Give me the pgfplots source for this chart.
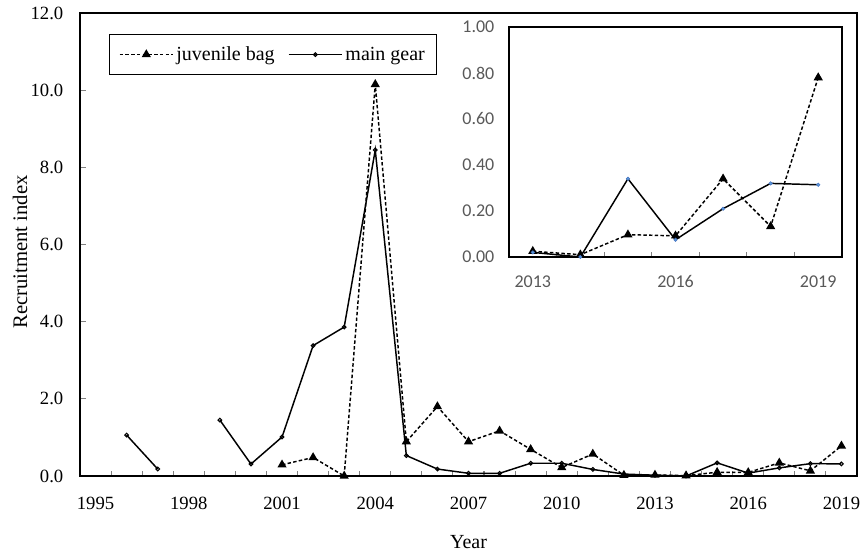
\documentclass[border=0pt]{standalone}
\usepackage{fontspec}
\setmainfont{Liberation Serif}
\newfontfamily\carlito{Carlito}
\usepackage{pgfplots}
\pgfplotsset{compat=1.18}
\definecolor{inkgray}{HTML}{595959}
\definecolor{mkblue}{HTML}{5B9BD5}
\definecolor{mkblueedge}{HTML}{4472C4}

\pgfplotsset{
  juvstyle/.style={black, line width=1.1pt, dash pattern=on 2.6pt off 1.7pt,
    mark=triangle*, mark size=2.9pt, mark options={solid, fill=black}},
}

\begin{document}
\begin{tikzpicture}
\path[use as bounding box] (0,0) rectangle (647.25pt,416.25pt);

% ---------- main panel: 1995-2019 ----------
\begin{axis}[
  at={(60pt,59.25pt)}, anchor=south west,
  scale only axis, width=582.75pt, height=347.25pt,
  xmin=1994.5, xmax=2019.5, ymin=0, ymax=12,
  clip=false,
  axis line style={line width=0.9pt},
  xtick={1995,1998,...,2019},
  major x tick style={draw=none},
  minor xtick={1995.5,1996.5,...,2018.5},
  minor tick length=3.75pt,
  minor x tick style={line width=0.8pt},
  ytick={0,2,...,12},
  major tick length=4.5pt,
  major y tick style={line width=0.8pt},
  xtick pos=left, ytick pos=left,
  tick align=inside,
  /pgf/number format/assume math mode=true,
  xticklabel style={font=\fontsize{14}{16}\selectfont, yshift=-12pt,
    text height=9.5pt, text depth=0pt,
    /pgf/number format/1000 sep={}},
  yticklabel style={font=\fontsize{14}{16}\selectfont, xshift=-9pt,
    /pgf/number format/.cd, fixed, fixed zerofill, precision=1},
  scaled y ticks=false,
  xlabel={Year},
  ylabel={Recruitment index},
  xlabel style={font=\fontsize{15}{18}\selectfont,
    at={(axis description cs:0.5,-0.1425)}, anchor=center},
  ylabel style={font=\fontsize{15.5}{18}\selectfont,
    at={(axis description cs:-0.0772,0.484)}, anchor=center},
  unbounded coords=jump,
  legend columns=2,
  legend style={at={(axis description cs:0.0373,0.9546)}, anchor=north west,
    draw=black, line width=0.9pt, font=\fontsize{15}{18}\selectfont,
    inner xsep=7pt, inner ysep=7pt,
    /tikz/every even column/.append style={column sep=8pt}},
  legend cell align=left,
  legend image code/.code={%
    \draw[mark repeat=2, mark phase=2, #1]
      plot coordinates {(0pt,0pt) (20pt,0pt) (40pt,0pt)};},
]
\addplot[juvstyle] coordinates {
  (2001,0.29) (2002,0.48) (2003,0.00) (2004,10.15) (2005,0.89)
  (2006,1.80) (2007,0.89) (2008,1.17) (2009,0.69) (2010,0.22)
  (2011,0.57) (2012,0.02) (2013,0.025) (2014,0.01) (2015,0.097)
  (2016,0.092) (2017,0.34) (2018,0.133) (2019,0.78)
};
\addlegendentry{juvenile bag}
\addplot[black, line width=1.1pt, mark=o, mark size=1.4pt,
  mark options={fill=white, line width=0.8pt}] coordinates {
  (1996,1.06) (1997,0.18) (1998,nan) (1999,1.45) (2000,0.31)
  (2001,1.01) (2002,3.38) (2003,3.86) (2004,8.45) (2005,0.53)
  (2006,0.18) (2007,0.07) (2008,0.07) (2009,0.33) (2010,0.33)
  (2011,0.17) (2012,0.05) (2013,0.02) (2014,0.00) (2015,0.34)
  (2016,0.075) (2017,0.21) (2018,0.32) (2019,0.314)
};
\addlegendentry{main gear}
\end{axis}

% ---------- inset: 2013-2019 ----------
\begin{axis}[
  at={(381.75pt,223.5pt)}, anchor=south west,
  scale only axis, width=249.75pt, height=172.5pt,
  xmin=2012.5, xmax=2019.5, ymin=0, ymax=1,
  clip=false,
  axis line style={line width=0.9pt},
  xtick={2013,2016,2019},
  major x tick style={draw=none},
  minor xtick={2013.5,2014.5,...,2018.5},
  minor tick length=3.75pt,
  minor x tick style={line width=0.8pt},
  ytick={0,0.2,...,1.0},
  major y tick style={draw=none},
  xtick pos=left, ytick pos=left,
  tick align=inside,
  /pgf/number format/assume math mode=true,
  ticklabel style={text=inkgray},
  xticklabel style={font=\carlito\fontsize{13.5}{16}\selectfont, yshift=-10pt,
    text height=9pt, text depth=0pt,
    /pgf/number format/1000 sep={}},
  yticklabel style={font=\carlito\fontsize{13.5}{16}\selectfont, xshift=-7.5pt,
    /pgf/number format/.cd, fixed, fixed zerofill, precision=2},
  scaled y ticks=false,
]
\addplot[juvstyle] coordinates {
  (2013,0.025) (2014,0.01) (2015,0.097) (2016,0.092)
  (2017,0.34) (2018,0.133) (2019,0.78)
};
\addplot[black, line width=1.1pt, mark=*, mark size=1.3pt,
  mark options={fill=mkblue, draw=mkblueedge, line width=0.4pt}] coordinates {
  (2013,0.02) (2014,0.00) (2015,0.34) (2016,0.075)
  (2017,0.21) (2018,0.32) (2019,0.314)
};
\end{axis}
\end{tikzpicture}
\end{document}
